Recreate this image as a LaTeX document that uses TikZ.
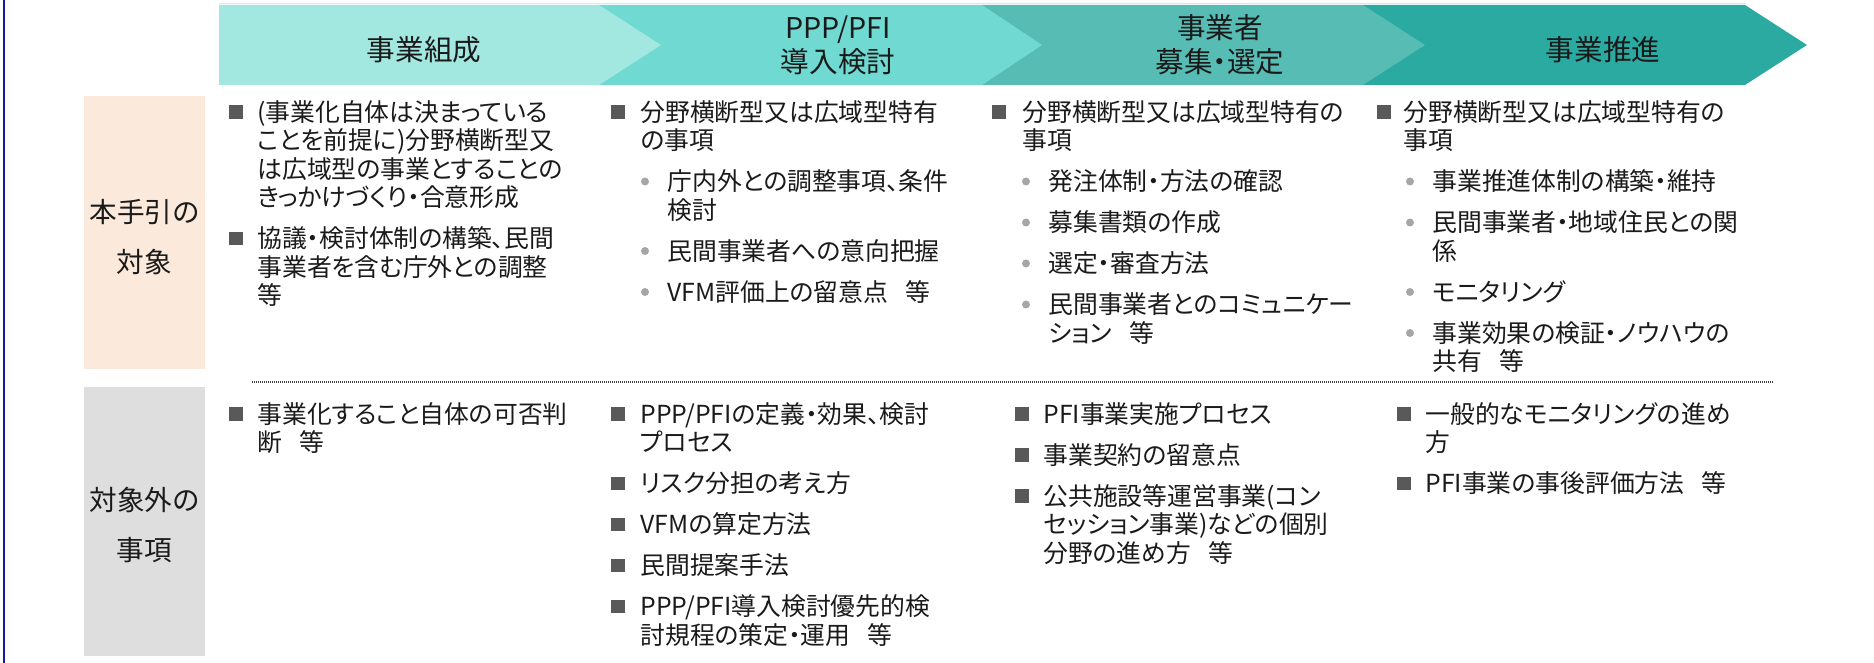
\documentclass[tikz,border=0pt]{standalone}
\usepackage{fontspec}
\setmainfont{Noto Sans CJK JP}[RawFeature=+palt]
\definecolor{cA}{HTML}{A3E7E1}
\definecolor{cB}{HTML}{70DAD2}
\definecolor{cC}{HTML}{56BCB4}
\definecolor{cD}{HTML}{2AAAA0}
\definecolor{peach}{HTML}{FBE9DB}
\definecolor{lgray}{HTML}{DEDEDE}
\definecolor{sqgray}{HTML}{595959}
\definecolor{dotgray}{HTML}{A6A6A6}
\definecolor{navyline}{RGB}{20,20,170}
\definecolor{txt}{HTML}{1A1A1A}
\definecolor{faint}{HTML}{E4E4E4}
\newcommand{\sr}{\rule[-0.12em]{0pt}{1em}}
\newcommand{\hdfont}{\fontsize{14.3pt}{17pt}\selectfont}
\newcommand{\lbfont}{\fontsize{13.8pt}{25pt}\selectfont}
\newcommand{\bdfont}{\fontsize{12.4pt}{14.25pt}\selectfont}
\newcommand{\etc}{\hspace{0.7em}等}
\tikzset{
  hdr/.style={font=\hdfont, align=center, inner sep=0pt, text=txt},
  lbl/.style={font=\lbfont, align=center, inner sep=0pt, text=txt},
  itm/.style={font=\bdfont, align=left, anchor=west, inner sep=0pt, text=txt},
  sqb/.style={fill=sqgray, minimum size=6.6pt, inner sep=0pt},
  dotb/.style={circle, fill=dotgray, minimum size=4pt, inner sep=0pt},
  sepline/.style={draw=black!75, line width=0.6pt, dash pattern=on 0.5pt off 0.5pt},
}
\begin{document}
\begin{tikzpicture}[x=0.5pt,y=-0.5pt]
\useasboundingbox (0,0) rectangle (1874,663);
% left blue rule
\draw[navyline, line width=1.25pt] (4,0) -- (4,663);
% faint top line
\draw[faint, line width=0.5pt] (219,3.5) -- (1745,3.5);
% chevrons (back to front)
\fill[cD] (1363,5) -- (1745,5) -- (1807,45) -- (1745,85) -- (1363,85) -- cycle;
\fill[cC] (982,5) -- (1363,5) -- (1425,45) -- (1363,85) -- (982,85) -- cycle;
\fill[cB] (598,5) -- (982,5) -- (1042,45) -- (982,85) -- (598,85) -- cycle;
\fill[cA] (219,5) -- (599,5) -- (661,45) -- (599,85) -- (219,85) -- cycle;
\node[hdr] (h1) at (424,49.5) {\sr{}事業組成};
\node[hdr] (h2) at (838,45) {\sr{}PPP/PFI\\\sr{}導入検討};
\node[hdr] (h3) at (1220,45) {\sr{}事業者\\\sr{}募集・選定};
\node[hdr] (h4) at (1603,49.5) {\sr{}事業推進};
% row label boxes
\fill[peach] (84,96) rectangle (205,369);
\fill[lgray] (84,387) rectangle (205,656);
\node[lbl] (l1) at (144.5,237) {\sr{}本手引の\\\sr{}対象};
\node[lbl] (l2) at (144.5,525) {\sr{}対象外の\\\sr{}事項};
% separator
\draw[sepline] (252,382) -- (1773,382);
% ---- top row, column 1
\node[sqb] (s11) at (236,112) {};
\node[itm] (t11) at (257,154.75) {\sr{}(事業化自体は決まっている\\\sr{}ことを前提に)分野横断型又\\\sr{}は広域型の事業とすることの\\\sr{}きっかけづくり・合意形成};
\node[sqb] (s12) at (236,238.5) {};
\node[itm] (t12) at (257,267) {\sr{}協議・検討体制の構築、民間\\\sr{}事業者を含む庁外との調整\\\sr{}等};
% ---- top row, column 2
\node[sqb] (s21) at (618,112) {};
\node[itm] (t21) at (640,126.25) {\sr{}分野横断型又は広域型特有\\\sr{}の事項};
\node[dotb] (d21) at (645,181.5) {};
\node[itm] (u21) at (667,195.75) {\sr{}庁内外との調整事項、条件\\\sr{}検討};
\node[dotb] (d22) at (645,251) {};
\node[itm] (u22) at (667,251) {\sr{}民間事業者への意向把握};
\node[dotb] (d23) at (645,292) {};
\node[itm] (u23) at (667,292) {\sr{}VFM評価上の留意点\etc};
% ---- top row, column 3
\node[sqb] (s31) at (999,112) {};
\node[itm] (t31) at (1022,126.25) {\sr{}分野横断型又は広域型特有の\\\sr{}事項};
\node[dotb] (d31) at (1026,181.5) {};
\node[itm] (u31) at (1048,181.5) {\sr{}発注体制・方法の確認};
\node[dotb] (d32) at (1026,222.5) {};
\node[itm] (u32) at (1048,222.5) {\sr{}募集書類の作成};
\node[dotb] (d33) at (1026,263.5) {};
\node[itm] (u33) at (1048,263.5) {\sr{}選定・審査方法};
\node[dotb] (d34) at (1026,304.5) {};
\node[itm] (u34) at (1048,318.75) {\sr{}民間事業者とのコミュニケー\\\sr{}ション\etc};
% ---- top row, column 4
\node[sqb] (s41) at (1384,112) {};
\node[itm] (t41) at (1403,126.25) {\sr{}分野横断型又は広域型特有の\\\sr{}事項};
\node[dotb] (d41) at (1410,181.5) {};
\node[itm] (u41) at (1432,181.5) {\sr{}事業推進体制の構築・維持};
\node[dotb] (d42) at (1410,222.5) {};
\node[itm] (u42) at (1432,236.75) {\sr{}民間事業者・地域住民との関\\\sr{}係};
\node[dotb] (d43) at (1410,292) {};
\node[itm] (u43) at (1432,292) {\sr{}モニタリング};
\node[dotb] (d44) at (1410,333) {};
\node[itm] (u44) at (1432,347.25) {\sr{}事業効果の検証・ノウハウの\\\sr{}共有\etc};
% ---- bottom row, column 1
\node[sqb] (p11) at (236,414) {};
\node[itm] (q11) at (257,428.25) {\sr{}事業化すること自体の可否判\\\sr{}断\etc};
% ---- bottom row, column 2
\node[sqb] (p21) at (618,414) {};
\node[itm] (q21) at (640,428.25) {\sr{}PPP/PFIの定義・効果、検討\\\sr{}プロセス};
\node[sqb] (p22) at (618,483.5) {};
\node[itm] (q22) at (640,483.5) {\sr{}リスク分担の考え方};
\node[sqb] (p23) at (618,524.5) {};
\node[itm] (q23) at (640,524.5) {\sr{}VFMの算定方法};
\node[sqb] (p24) at (618,565.5) {};
\node[itm] (q24) at (640,565.5) {\sr{}民間提案手法};
\node[sqb] (p25) at (618,606.5) {};
\node[itm] (q25) at (640,620.75) {\sr{}PPP/PFI導入検討優先的検\\\sr{}討規程の策定・運用\etc};
% ---- bottom row, column 3
\node[sqb] (p31) at (1022,414) {};
\node[itm] (q31) at (1043,414) {\sr{}PFI事業実施プロセス};
\node[sqb] (p32) at (1022,455) {};
\node[itm] (q32) at (1043,455) {\sr{}事業契約の留意点};
\node[sqb] (p33) at (1022,496) {};
\node[itm] (q33) at (1043,524.5) {\sr{}公共施設等運営事業(コン\\\sr{}セッション事業)などの個別\\\sr{}分野の進め方\etc};
% ---- bottom row, column 4
\node[sqb] (p41) at (1404,414) {};
\node[itm] (q41) at (1425,428.25) {\sr{}一般的なモニタリングの進め\\\sr{}方};
\node[sqb] (p42) at (1404,483.5) {};
\node[itm] (q42) at (1425,483.5) {\sr{}PFI事業の事後評価方法\etc};
\end{tikzpicture}
\end{document}
